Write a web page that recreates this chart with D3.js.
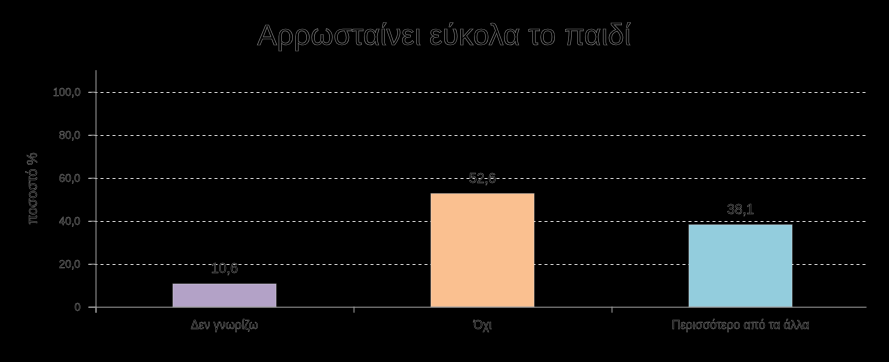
<!DOCTYPE html>
<html>
<head>
<meta charset="utf-8">
<script src="https://cdn.jsdelivr.net/npm/d3@7"></script>
<style>
  html, body { margin: 0; padding: 0; background: #000; }
  svg { display: block; will-change: transform; }
  text { font-family: "Liberation Sans", Arial, sans-serif; }
  .halo { fill: #000; stroke: #cfcfcf; stroke-opacity: 0.5; stroke-width: 0.5px; }
</style>
</head>
<body>
<svg id="chart" width="889" height="362"></svg>
<script>
const title = "Αρρωσταίνει εύκολα το παιδί";
const yTitle = "ποσοστό %";
const categories = ["Δεν γνωρίζω", "Όχι", "Περισσότερο από τα άλλα"];
const values = [10.6, 52.6, 38.1];
const valueLabels = ["10,6", "52,6", "38,1"];
const colors = ["#B3A2C7", "#FAC090", "#93CDDD"];
const yTicks = [0, 20, 40, 60, 80, 100];
const yTickLabels = ["0", "20,0", "40,0", "60,0", "80,0", "100,0"];

const svg = d3.select("#chart");
const mLeft = 95.5, mRight = 869.5, mTop = 70.2, mBottom = 306.7;

const x = d3.scaleBand().domain(categories).range([mLeft, mRight]).paddingInner(0).paddingOuter(0);
const y = d3.scaleLinear().domain([0, 110]).range([mBottom, mTop]);

// gridlines
svg.append("g").selectAll("line").data(yTicks.filter(d => d > 0)).join("line")
  .attr("x1", mLeft - 7).attr("x2", mRight - 3)
  .attr("y1", d => Math.round(y(d)) + 0.5).attr("y2", d => Math.round(y(d)) + 0.5)
  .attr("stroke", "#cfcfcf").attr("stroke-width", 1).attr("stroke-dasharray", "3,3");

// y axis
const yAxis = d3.axisLeft(y).tickValues(yTicks).tickFormat((d, i) => yTickLabels[i]).tickSize(7).tickSizeOuter(0);
const gy = svg.append("g").attr("transform", `translate(${mLeft},0)`).call(yAxis);
gy.select(".domain").attr("stroke", "#9a9a9a").attr("d", `M0.5,${mTop}V${mBottom + 6}`);
gy.selectAll(".tick line").attr("stroke", "#9a9a9a");
gy.selectAll(".tick text").attr("class", "halo").attr("font-size", 11).attr("x", -15)
  .style("font-family", "Liberation Sans, Arial, sans-serif");

// x axis
const xAxis = d3.axisBottom(x).tickSize(0).tickPadding(14);
const gx = svg.append("g").attr("transform", `translate(0,${mBottom})`).call(xAxis);
gx.select(".domain").attr("stroke", "#9a9a9a").attr("d", `M${mLeft - 7},0.5H${mRight - 3}`);
gx.selectAll(".tick text").attr("class", "halo").attr("font-size", 12)
  .style("font-family", "Liberation Sans, Arial, sans-serif");
// category separators
svg.append("g").selectAll("line").data(categories).join("line")
  .attr("x1", d => x(d) + 0.5).attr("x2", d => x(d) + 0.5)
  .attr("y1", mBottom).attr("y2", mBottom + 6).attr("stroke", "#9a9a9a");

// bars
const bw = x.bandwidth() * 0.4;
svg.append("g").selectAll("rect").data(values).join("rect")
  .attr("x", (d, i) => x(categories[i]) + (x.bandwidth() - bw) / 2)
  .attr("width", bw)
  .attr("y", d => y(d))
  .attr("height", d => mBottom - y(d))
  .attr("fill", (d, i) => colors[i])
  .attr("stroke", "#ffffff").attr("stroke-opacity", 0.35).attr("stroke-width", 1);

// value labels
svg.append("g").selectAll("text").data(values).join("text")
  .attr("class", "halo")
  .attr("x", (d, i) => x(categories[i]) + x.bandwidth() / 2)
  .attr("y", d => y(d) - 11)
  .attr("text-anchor", "middle").attr("font-size", 14)
  .text((d, i) => valueLabels[i]);

// title
svg.append("text").attr("class", "halo")
  .attr("x", 444).attr("y", 45).attr("text-anchor", "middle")
  .attr("font-size", 29.5).style("stroke-width", "0.7px").text(title);

// y title
svg.append("text").attr("class", "halo")
  .attr("transform", `translate(37,${(mTop + mBottom) / 2}) rotate(-90)`)
  .attr("text-anchor", "middle").attr("font-size", 14).text(yTitle);
</script>
</body>
</html>
